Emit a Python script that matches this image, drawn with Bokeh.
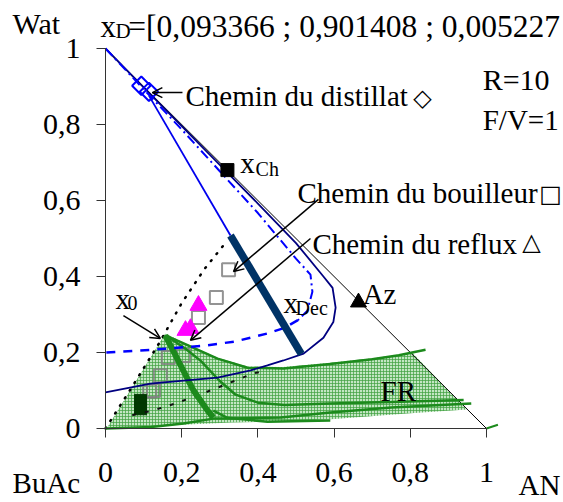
from bokeh.plotting import figure
from bokeh.models import Range1d, Label, Arrow, OpenHead, FixedTicker
from bokeh.embed import file_html
from bokeh.resources import INLINE

# ---------------- data ----------------
tick_vals = [0, 0.2, 0.4, 0.6, 0.8, 1]
tick_labels = ["0", "0,2", "0,4", "0,6", "0,8", "1"]

edge_x = [0, 1]
edge_y = [1, 0]

# distillate points (hollow blue diamonds)
dist_x = [0.094, 0.114]
dist_y = [0.902, 0.886]
# feed point x_Ch and azeotrope Az
xch_x = [0.32]
xch_y = [0.68]
az_x = [0.664]
az_y = [0.332]
# boiler path (grey squares)
boil_x = [0.323, 0.291, 0.244, 0.205, 0.165, 0.144, 0.126, 0.116]
boil_y = [0.418, 0.345, 0.292, 0.192, 0.187, 0.139, 0.100, 0.098]
# reflux path (magenta triangles)
refl_x = [0.244, 0.223, 0.210]
refl_y = [0.324, 0.263, 0.258]
# dark squares
dark_x = [0.092, 0.092]
dark_y = [0.074, 0.052]

# straight blue line from distillate to decanter tie line
dline_x = [0.114, 0.328]
dline_y = [0.876, 0.508]
# decanter tie line (thick)
tie_x = [0.328, 0.514]
tie_y = [0.508, 0.196]

# navy curve
navy_x = [0, 0.118, 0.205, 0.294, 0.381, 0.425, 0.467, 0.52, 0.572, 0.598, 0.604,
          0.596, 0.572, 0.5, 0.4, 0.3, 0.2, 0.1, 0]
navy_y = [0.095, 0.118, 0.126, 0.134, 0.153, 0.166, 0.179, 0.197, 0.239, 0.28, 0.318,
          0.37, 0.4, 0.488, 0.592, 0.694, 0.796, 0.898, 1]

# blue dash-dot (upper) and dashed (lower) curve
bdd_x = [0, 0.1, 0.2, 0.3, 0.4, 0.5, 0.538, 0.543, 0.53, 0.505]
bdd_y = [1, 0.893, 0.787, 0.677, 0.567, 0.447, 0.405, 0.36, 0.31, 0.285]
bds_x = [0.505, 0.47, 0.425, 0.34, 0.26, 0.12, 0]
bds_y = [0.285, 0.265, 0.25, 0.229, 0.218, 0.207, 0.2]

# black dotted boundary
dot_x = [0, 0.07, 0.144, 0.2, 0.26, 0.32]
dot_y = [0, 0.11, 0.23, 0.33, 0.42, 0.495]
# black dashed residue curve
dsh_x = [0.07, 0.123, 0.184, 0.25, 0.328, 0.388, 0.42]
dsh_y = [0.035, 0.047, 0.066, 0.09, 0.121, 0.145, 0.152]

# feasible region (FR)
fr_x = [0.157, 0.205, 0.294, 0.373, 0.467, 0.59, 0.7, 0.806, 0.948,
        0.8, 0.6, 0.45, 0.33, 0.2, 0.1, 0.005]
fr_y = [0.25, 0.226, 0.186, 0.163, 0.162, 0.173, 0.185, 0.199, 0.05,
        0.04, 0.025, 0.018, 0.016, 0.01, 0.005, 0.003]

# green curves
g1_x = [0.157, 0.205, 0.294, 0.373, 0.467, 0.59, 0.7, 0.77, 0.84]
g1_y = [0.245, 0.224, 0.184, 0.16, 0.158, 0.17, 0.182, 0.193, 0.207]
g2_x = [0.165, 0.21, 0.25, 0.3, 0.34, 0.4, 0.47, 0.59, 0.75, 0.94]
g2_y = [0.24, 0.21, 0.178, 0.125, 0.09, 0.068, 0.062, 0.066, 0.07, 0.075]
g3_x = [0.157, 0.231, 0.268, 0.283]
g3_y = [0.245, 0.1, 0.047, 0.029]
g4_x = [0, 0.12, 0.205, 0.283, 0.33, 0.46, 0.59, 0.75, 0.96]
g4_y = [0, 0.004, 0.013, 0.026, 0.026, 0.029, 0.042, 0.055, 0.066]
g5_x = [0.283, 0.32, 0.425, 0.59]
g5_y = [0.047, 0.028, 0.018, 0.021]
g6_x = [1.0, 1.03]
g6_y = [0.0, 0.01]

# ---------------- figure ----------------
W, H = 563, 502
X0, X1 = 105, 486      # pixel of x=0 and x=1
Y0, Y1 = 428, 48       # pixel of y=0 and y=1
sx = X1 - X0
sy = Y0 - Y1
p = figure(width=W, height=H, output_backend="svg", toolbar_location=None,
           x_range=Range1d(-X0 / sx, (W - X0) / sx),
           y_range=Range1d(-(H - Y0) / sy, Y0 / sy),
           min_border=0, min_border_left=0, min_border_right=0,
           min_border_top=0, min_border_bottom=0)
p.outline_line_color = None
p.xgrid.visible = False
p.ygrid.visible = False
p.background_fill_color = "white"

for ax in (p.xaxis[0], p.yaxis[0]):
    ax.fixed_location = 0
    ax.bounds = (0, 1)
    ax.ticker = FixedTicker(ticks=tick_vals)
    ax.major_label_overrides = {v: t for v, t in zip(tick_vals, tick_labels)}
    ax.major_tick_in = 0
    ax.major_tick_out = 9
    ax.minor_tick_line_color = None
    ax.axis_line_color = "#333333"
    ax.major_tick_line_color = "#333333"
    ax.major_label_text_font = "Liberation Serif"
    ax.major_label_text_font_size = "30px"
    ax.major_label_text_color = "black"
p.xaxis.major_label_standoff = 25
p.yaxis.major_label_standoff = 16

FONT = "Liberation Serif"

# feasible region
p.patch(fr_x, fr_y, fill_color="#b4e0b4", fill_alpha=0.8, line_color=None,
        hatch_pattern="+", hatch_color="#3f9f3f", hatch_scale=3, hatch_weight=1, hatch_alpha=0.7)

p.scatter(boil_x, boil_y, marker="square", size=13, fill_color=None,
          line_color="#808080", line_width=2, line_alpha=0.85)
p.scatter(dark_x, dark_y, marker="square", size=12, fill_color="#013801",
          line_color="#013801")

# lines
p.line(edge_x, edge_y, line_color="black", line_width=1)
p.line(dot_x, dot_y, line_color="black", line_width=2.5, line_dash="1 8", line_cap="round")
p.line(dsh_x, dsh_y, line_color="#111111", line_width=2, line_dash="4 9")
gc = "#1c8a1c"
p.line(g4_x, g4_y, line_color=gc, line_width=2.5)
p.line(g5_x, g5_y, line_color=gc, line_width=2.5)
p.line(g2_x, g2_y, line_color=gc, line_width=2.5)
p.line(g1_x, g1_y, line_color=gc, line_width=2.5)
p.line(g6_x, g6_y, line_color=gc, line_width=2)
p.line(g3_x, g3_y, line_color=gc, line_width=6)
p.line(navy_x, navy_y, line_color="#000080", line_width=1.8)
p.line(bdd_x, bdd_y, line_color="#0000ff", line_width=2, line_dash="10 4 2 4")
p.line(bds_x, bds_y, line_color="#0000ff", line_width=2.5, line_dash="9 8")
p.line(dline_x, dline_y, line_color="#0000ee", line_width=1.8)
p.line(tie_x, tie_y, line_color="#003366", line_width=7.5)

# markers
p.scatter(dist_x, dist_y, marker="square", angle=0.7854, size=13, fill_color=None,
          line_color="#0000ff", line_width=2)
p.scatter(xch_x, xch_y, marker="square", size=13, fill_color="black", line_color="black")
p.scatter(az_x, az_y, marker="triangle", size=16, fill_color="black", line_color="black")
p.scatter(refl_x, refl_y, marker="triangle", size=17, fill_color="#ff00ff", line_color="#ff00ff")

# arrows
arrows = [((0.202, 0.884), (0.123, 0.884)),
          ((0.047, 0.297), (0.144, 0.237)),
          ((0.559, 0.603), (0.336, 0.413)),
          ((0.538, 0.500), (0.223, 0.232))]
for (xs, ys), (xe, ye) in arrows:
    p.add_layout(Arrow(end=OpenHead(size=10, line_width=1.5, line_color="black"),
                       x_start=xs, y_start=ys, x_end=xe, y_end=ye,
                       line_width=1.5, line_color="black"))

DY = 0.024  # baseline correction


def lab(x, y, t, size=29, font=FONT, align="left", base="alphabetic", dy=DY):
    p.add_layout(Label(x=x, y=y + dy, text=t, text_font=font, text_font_size=f"{size}px",
                       text_align=align, text_baseline=base, text_color="black"))


lab(-0.244, 1.042, "Wat", 30)
lab(-0.244, -0.168, "BuAc", 29)
lab(1.084, -0.172, "AN", 29)
lab(-0.013, 1.034, "x", 31)
lab(0.026, 1.021, "D", 21)
lab(0.06, 1.034, "=[0,093366 ; 0,901408 ; 0,005227", 31.5)
lab(0.99, 0.895, "R=10", 30)
lab(0.99, 0.789, "F/V=1", 29)
lab(0.21, 0.85, "Chemin du distillat", 29)
lab(0.504, 0.595, "Chemin du bouilleur", 29)
lab(0.543, 0.461, "Chemin du reflux", 29)
lab(0.832, 0.863, "\u25c7", 24, "DejaVu Sans", "center", "middle", 0.008)
lab(1.168, 0.608, "\u25a1", 24, "DejaVu Sans", "center", "middle", 0.008)
lab(1.118, 0.484, "\u25b3", 24, "DejaVu Sans", "center", "middle", 0.008)
lab(0.354, 0.674, "x", 29)
lab(0.394, 0.66, "Ch", 20)
lab(0.467, 0.305, "x", 29)
lab(0.499, 0.292, "Dec", 20)
lab(0.026, 0.318, "x", 29)
lab(0.058, 0.305, "0", 20)
lab(0.675, 0.329, "Az", 29)
lab(0.722, 0.074, "FR", 29)

open("out.html", "w").write(file_html(p, INLINE))
